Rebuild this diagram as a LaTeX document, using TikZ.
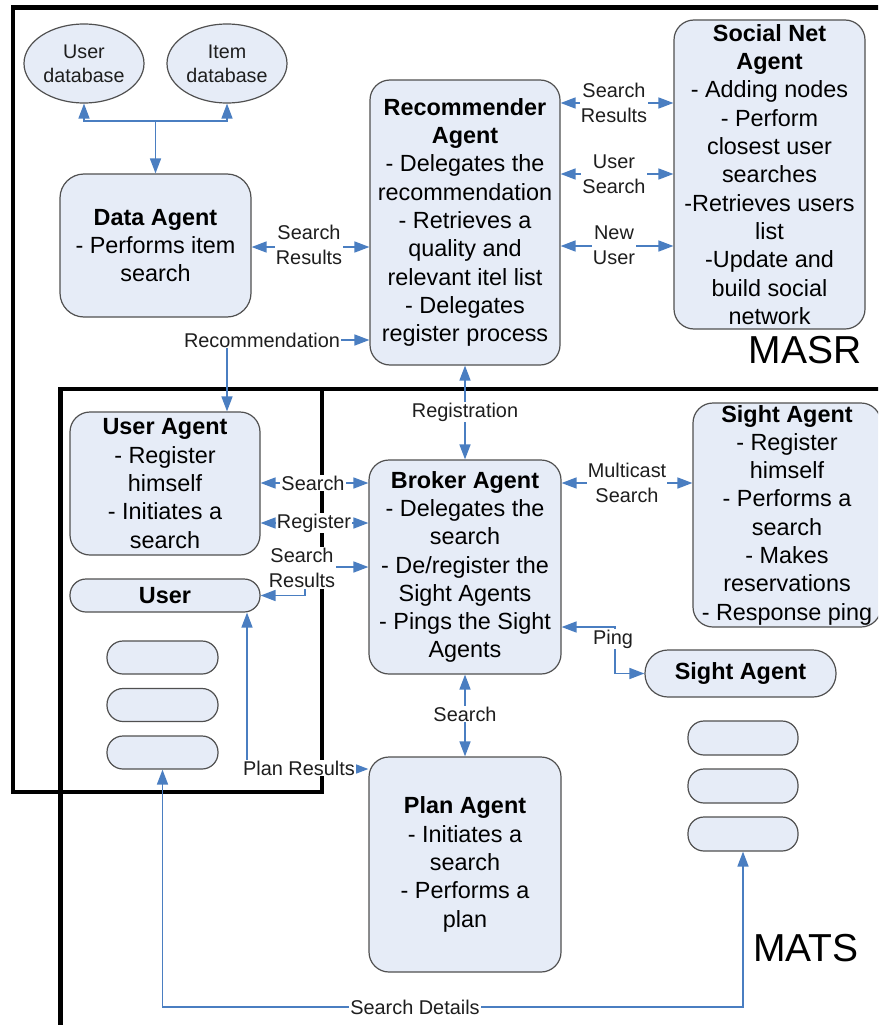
\documentclass[tikz,border=0pt]{standalone}
\usepackage{fontspec}
\setmainfont{Liberation Sans}
\usetikzlibrary{arrows.meta,shapes.geometric}
\definecolor{boxfill}{RGB}{230,236,247}
\definecolor{boxline}{RGB}{80,80,80}
\definecolor{conblue}{RGB}{74,126,193}
\definecolor{labtext}{RGB}{30,30,30}
\tikzset{
  agent/.style={draw=boxline, fill=boxfill, line width=1.2pt, rounded corners=20pt,
    align=center, inner sep=0pt, text=black, font=\fontsize{23.4}{28.3}\selectfont},
  pill/.style={draw=boxline, fill=boxfill, line width=1.2pt, rounded corners=16pt,
    align=center, inner sep=0pt, text=black, font=\fontsize{23.4}{28.3}\selectfont},
  dbell/.style={ellipse, draw=boxline, fill=boxfill, line width=1.2pt, inner sep=0pt,
    align=center, text=labtext, font=\fontsize{19.7}{24}\selectfont},
  conn/.style={draw=conblue, line width=1.6pt},
  twoway/.style={arrows={Triangle[length=15pt,width=11pt]-Triangle[length=15pt,width=11pt]}},
  oneway/.style={arrows={-Triangle[length=15pt,width=11pt]}},
  lab/.style={fill=white, inner sep=1pt, align=center, text=labtext,
    font=\fontsize{19.9}{24.5}\selectfont},
  frame/.style={draw=black, line width=4.5pt, line join=miter},
  big/.style={text=black, font=\fontsize{39}{41}\selectfont, inner sep=0pt}
}
\begin{document}
\begin{tikzpicture}[x=1pt,y=-1pt]
\useasboundingbox (0,0) rectangle (878,1025);
\clip (0,0) rectangle (878,1025);
\fill[white] (0,0) rectangle (878,1025);

% frames
\draw[frame] (885,7.5) -- (13,7.5) -- (13,792) -- (322,792) -- (322,389);
\draw[frame] (60.5,1035) -- (60.5,389) -- (885,389);

% nodes
\node[dbell, minimum width=120pt, minimum height=79pt] (udb) at (84,63.5) {User\\database};
\node[dbell, minimum width=120pt, minimum height=79pt] (idb) at (227,63.5) {Item\\database};
\node[agent, rounded corners=24pt, minimum width=191pt, minimum height=143pt] (data) at (155.5,245.5)
  {\textbf{Data Agent}\\- Performs item\\search};
\node[agent, minimum width=190pt, minimum height=285pt] (rec) at (465,222.5)
  {\textbf{Recommender}\\\textbf{Agent}\\- Delegates the\\recommendation\\- Retrieves a\\quality and\\relevant itel list\\- Delegates\\register process};
\node[agent, minimum width=191pt, minimum height=309pt] (soc) at (769.5,174.5)
  {\textbf{Social Net}\\\textbf{Agent}\\- Adding nodes\\- Perform\\closest user\\searches\\-Retrieves users\\list\\-Update and\\build social\\network};
\node[agent, minimum width=190pt, minimum height=143pt] (ua) at (165,483.5)
  {\textbf{User Agent}\\- Register\\himself\\- Initiates a\\search};
\node[pill, minimum width=190pt, minimum height=33pt] (user) at (165,595.5) {\textbf{User}};
\node[pill, minimum width=111pt, minimum height=33pt] (lp1) at (162.5,657.5) {};
\node[pill, minimum width=111pt, minimum height=33pt] (lp2) at (162.5,705) {};
\node[pill, minimum width=111pt, minimum height=33pt] (lp3) at (162.5,752.5) {};
\node[agent, minimum width=192pt, minimum height=214pt] (broker) at (465,567)
  {\textbf{Broker Agent}\\- Delegates the\\search\\- De/register the\\Sight Agents\\- Pings the Sight\\Agents};
\node[agent, minimum width=188pt, minimum height=224pt] (sight) at (787,515)
  {\textbf{Sight Agent}\\- Register\\himself\\- Performs a\\search\\- Makes\\reservations\\- Response ping};
\node[pill, rounded corners=23pt, minimum width=191pt, minimum height=47pt] (sp) at (740.5,673.5) {\textbf{Sight Agent}};
\node[pill, minimum width=110pt, minimum height=34pt] (rp1) at (743,738) {};
\node[pill, minimum width=110pt, minimum height=34pt] (rp2) at (743,786) {};
\node[pill, minimum width=110pt, minimum height=34pt] (rp3) at (743,834) {};
\node[agent, minimum width=192pt, minimum height=215pt] (plan) at (465,864.5)
  {\textbf{Plan Agent}\\- Initiates a\\search\\- Performs a\\plan};

% helper coordinates
\coordinate (j1) at (155.5,121);
\coordinate (yDS) at (0,247);
\coordinate (yR1) at (0,103);
\coordinate (yR2) at (0,174);
\coordinate (yR3) at (0,246);
\coordinate (rc) at (227,340);
\coordinate (yS) at (0,483);
\coordinate (yReg) at (0,523);
\coordinate (ySR) at (0,567);
\coordinate (xSR) at (305,0);
\coordinate (yPing) at (0,627);
\coordinate (xPing) at (615,0);
\coordinate (yPR) at (0,769);
\coordinate (xPR) at (247,0);
\coordinate (ySD) at (0,1007);

% connectors
\draw[conn,twoway] (udb.south) |- (j1) -| (idb.south);
\draw[conn,oneway] (j1) -- (data.north);
\draw[conn,twoway] (data.east |- yDS) -- (rec.west |- yDS);
\draw[conn,twoway] (rec.east |- yR1) -- (soc.west |- yR1);
\draw[conn,twoway] (rec.east |- yR2) -- (soc.west |- yR2);
\draw[conn,twoway] (rec.east |- yR3) -- (soc.west |- yR3);
\draw[conn,twoway] (ua.north -| rc) -- (rc) -- (rec.west |- rc);
\draw[conn,twoway] (rec.south) -- (broker.north);
\draw[conn,twoway] (ua.east |- yS) -- (broker.west |- yS);
\draw[conn,twoway] (ua.east |- yReg) -- (broker.west |- yReg);
\draw[conn,twoway] (user.east) -- (user.east -| xSR) -- (xSR |- ySR) -- (broker.west |- ySR);
\draw[conn,twoway] (broker.east |- yS) -- (sight.west |- yS);
\draw[conn,twoway] (broker.east |- yPing) -- (xPing |- yPing) -- (xPing |- sp.west) -- (sp.west);
\draw[conn,twoway] (broker.south) -- (plan.north);
\draw[conn,twoway] (plan.west |- yPR) -- (xPR |- yPR) -- (xPR |- user.south);
\draw[conn,twoway] (lp3.south) -- (lp3.south |- ySD) -- (rp3.south |- ySD) -- (rp3.south);

% labels
\node[lab] (l1) at (309,245) {Search\\Results};
\node[lab] (l2) at (614,103) {Search\\Results};
\node[lab] (l3) at (614,174) {User\\Search};
\node[lab] (l4) at (614,245) {New\\User};
\node[lab] (l5) at (262,340) {Recommendation};
\node[lab] (l6) at (465,412) {Registration};
\node[lab] (l7) at (313,483) {Search};
\node[lab] (l8) at (314,523) {Register};
\node[lab] (l9) at (302,568) {Search\\Results};
\node[lab] (l10) at (627,483) {Multicast\\Search};
\node[lab] (l11) at (613,639) {Ping};
\node[lab] (l12) at (465,714) {Search};
\node[lab] (l13) at (299,768) {Plan Results};
\node[lab] (l14) at (415,1007) {Search Details};

\node[big] (masr) at (805,350) {MASR};
\node[big] (mats) at (806,948) {MATS};
\end{tikzpicture}
\end{document}
